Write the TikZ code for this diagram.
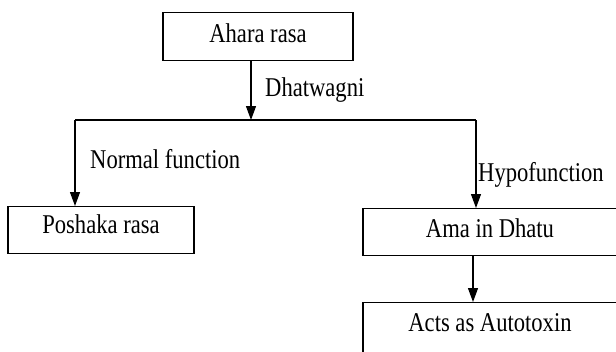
\documentclass[tikz,border=0pt]{standalone}
\usepackage{fontspec}
\setmainfont{Liberation Serif}
\usetikzlibrary{arrows.meta}
\newcommand{\tallt}[1]{\scalebox{1}[1.2]{#1}}
\begin{document}
\begin{tikzpicture}[x=1pt,y=-1pt,
  every node/.style={font=\fontsize{22.6}{27}\selectfont},
  boxnode/.style={draw=black,line width=1.2pt,rectangle,inner sep=0pt,anchor=north},
  lbl/.style={anchor=base west,inner sep=0pt},
  conn/.style={draw=black,line width=1.2pt},
  arr/.style={conn,-{Triangle[length=14pt,width=10pt]}}]
\useasboundingbox (0,0) rectangle (616,351);
\begin{scope}
\clip (0,0) rectangle (616,351);
\node[boxnode,minimum width=190pt,text height=29.7pt,text depth=18.3pt] (ahara) at (258,12) {\tallt{Ahara rasa}};
\node[boxnode,minimum width=186pt,text height=27pt,text depth=20pt] (posh) at (101,206) {\tallt{Poshaka rasa}};
\node[boxnode,minimum width=254pt,text height=28.7pt,text depth=18.3pt] (ama) at (490,208) {\tallt{Ama in Dhatu}};
\node[boxnode,minimum width=254pt,text height=29pt,text depth=29pt] (acts) at (490,302) {\tallt{Acts as Autotoxin}};
\coordinate (jm) at (251,120);
\coordinate (jl) at (75,120);
\coordinate (jr) at (476,120);
\coordinate (ax) at (473,0);
\draw[arr] (jm |- ahara.south) -- (jm);
\draw[conn] (jl) -- (jr);
\draw[arr] (jl) -- (jl |- posh.north);
\draw[arr] (jr) -- (jr |- ama.north);
\draw[arr] (ax |- ama.south) -- (ax |- acts.north);
\node[lbl] (dhat) at (265,96.7) {\tallt{Dhatwagni}};
\node[lbl] (norm) at (90,168) {\tallt{Normal function}};
\node[lbl] (hypo) at (478,181) {\tallt{Hypofunction}};
\end{scope}
\end{tikzpicture}
\end{document}
